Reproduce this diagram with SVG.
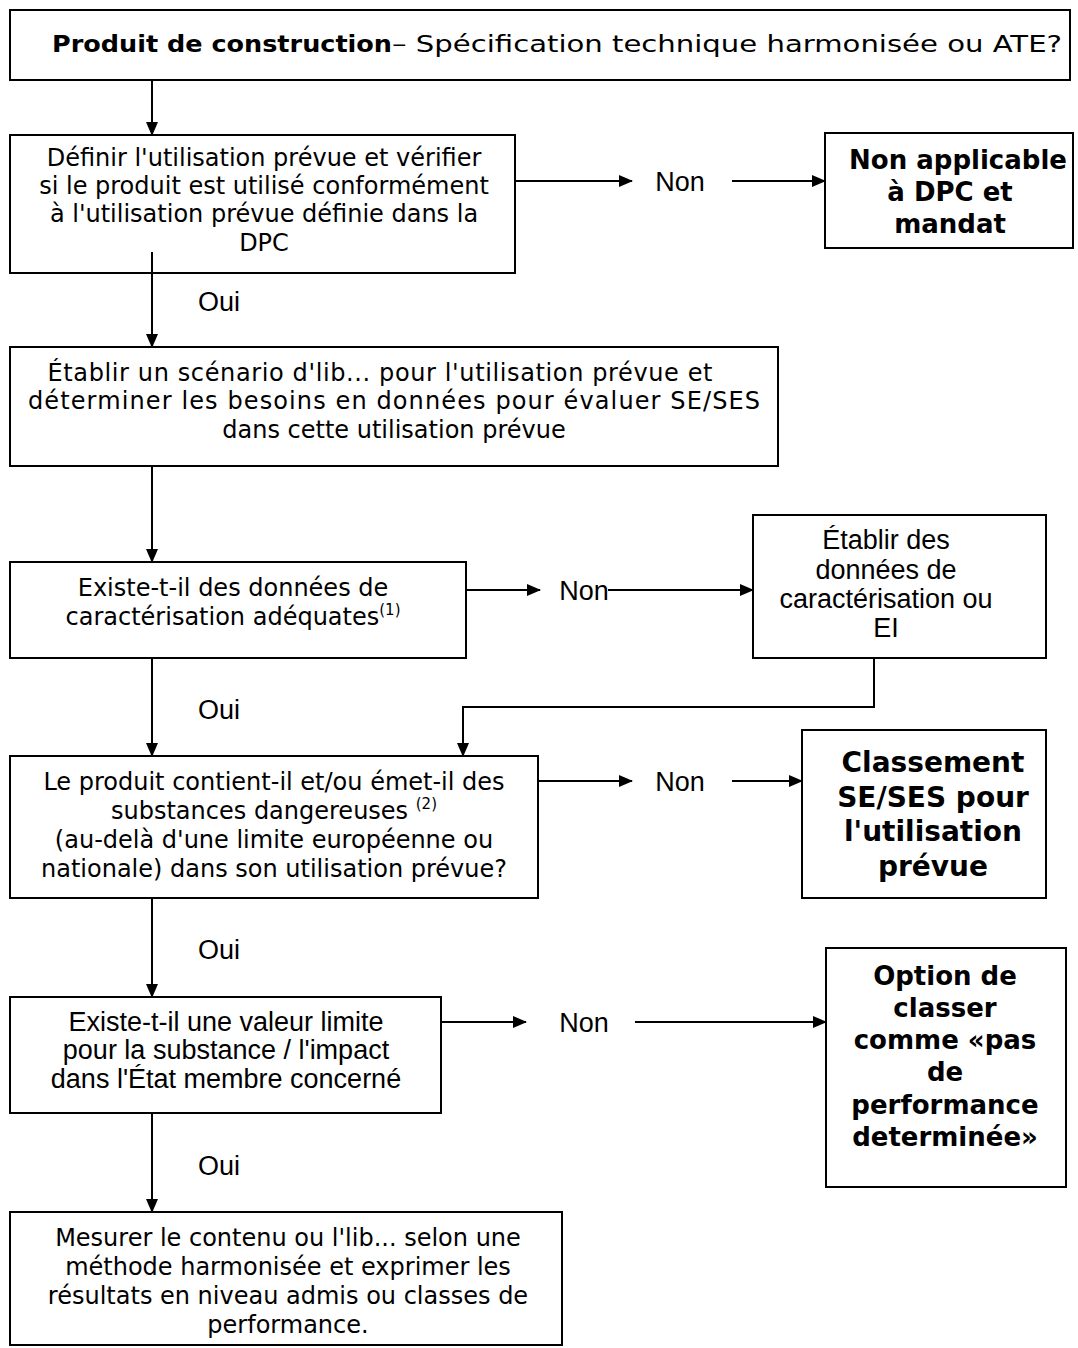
<svg xmlns="http://www.w3.org/2000/svg" width="1078" height="1348" viewBox="0 0 1078 1348">
<style>
.box{fill:#fff;stroke:#000;stroke-width:2}
.t{font-family:"DejaVu Sans",Verdana,sans-serif;font-size:24px;fill:#000;text-anchor:middle}
.a{font-family:"Liberation Sans",Arial,sans-serif;font-size:27px;fill:#000;text-anchor:middle}
.b{font-family:"DejaVu Sans",Verdana,sans-serif;font-weight:bold;fill:#000;text-anchor:middle}
.c{stroke:#000;stroke-width:2;fill:none}
.sup{font-size:15px}
</style>
<defs>
<marker id="ah" markerWidth="14" markerHeight="12" refX="13" refY="6" orient="auto" markerUnits="userSpaceOnUse">
<path d="M0,0 L14,6 L0,12 Z" fill="#000"/>
</marker>
</defs>
<rect width="1078" height="1348" fill="#fff"/>
<g id="n1">
<rect class="box" x="10" y="10" width="1060" height="70"/>
<text x="52" y="52" font-family="DejaVu Sans,Verdana,sans-serif" font-size="23" font-weight="bold" textLength="340" lengthAdjust="spacingAndGlyphs">Produit de construction</text>
<text x="392" y="52" font-family="DejaVu Sans,Verdana,sans-serif" font-size="23" textLength="670" lengthAdjust="spacingAndGlyphs">– Spécification technique harmonisée ou ATE?</text>
</g>
<g id="n2">
<rect class="box" x="10" y="135" width="505" height="138"/>
<text class="t" x="264" y="166">Définir l'utilisation prévue et vérifier</text>
<text class="t" x="264" y="194">si le produit est utilisé conformément</text>
<text class="t" x="264" y="222">à l'utilisation prévue définie dans la</text>
<text class="t" x="264" y="251">DPC</text>
</g>
<g id="n3">
<rect class="box" x="825" y="133" width="248" height="115"/>
<text class="b" font-size="26" x="958" y="169">Non applicable</text>
<text class="b" font-size="26" x="950" y="201">à DPC et</text>
<text class="b" font-size="26" x="950" y="233">mandat</text>
</g>
<g id="n4">
<rect class="box" x="10" y="347" width="768" height="119"/>
<text class="t" x="380" y="381" textLength="665" lengthAdjust="spacing">Établir un scénario d'lib... pour l'utilisation prévue et</text>
<text class="t" x="394" y="409" textLength="732" lengthAdjust="spacing">déterminer les besoins en données pour évaluer SE/SES</text>
<text class="t" font-size="22" x="394" y="438">dans cette utilisation prévue</text>
</g>
<g id="n5">
<rect class="box" x="10" y="562" width="456" height="96"/>
<text class="t" x="233" y="596">Existe-t-il des données de</text>
<text class="t" x="233" y="625">caractérisation adéquates<tspan class="sup" dy="-10">(1)</tspan></text>
</g>
<g id="n6">
<rect class="box" x="753" y="515" width="293" height="143"/>
<text class="a" x="886" y="549">Établir des</text>
<text class="a" x="886" y="579">données de</text>
<text class="a" x="886" y="608">caractérisation ou</text>
<text class="a" x="886" y="637">EI</text>
</g>
<g id="n7">
<rect class="box" x="10" y="756" width="528" height="142"/>
<text class="t" x="274" y="790">Le produit contient-il et/ou émet-il des</text>
<text class="t" x="274" y="819">substances dangereuses <tspan class="sup" dy="-10">(2)</tspan></text>
<text class="t" x="274" y="848">(au-delà d'une limite européenne ou</text>
<text class="t" x="274" y="877">nationale) dans son utilisation prévue?</text>
</g>
<g id="n8">
<rect class="box" x="802" y="730" width="244" height="168"/>
<text class="b" font-size="28" x="933" y="772">Classement</text>
<text class="b" font-size="28" x="933" y="807">SE/SES pour</text>
<text class="b" font-size="28" x="933" y="841">l'utilisation</text>
<text class="b" font-size="28" x="933" y="876">prévue</text>
</g>
<g id="n9">
<rect class="box" x="10" y="997" width="431" height="116"/>
<text class="a" x="226" y="1031">Existe-t-il une valeur limite</text>
<text class="a" x="226" y="1059">pour la substance / l'impact</text>
<text class="a" x="226" y="1088">dans l'État membre concerné</text>
</g>
<g id="n10">
<rect class="box" x="826" y="948" width="240" height="239"/>
<text class="b" font-size="26" x="945" y="985">Option de</text>
<text class="b" font-size="26" x="945" y="1017">classer</text>
<text class="b" font-size="26" x="945" y="1049">comme «pas</text>
<text class="b" font-size="26" x="945" y="1081">de</text>
<text class="b" font-size="26" x="945" y="1114">performance</text>
<text class="b" font-size="26" x="945" y="1146">determinée»</text>
</g>
<g id="n11">
<rect class="box" x="10" y="1212" width="552" height="133"/>
<text class="t" x="288" y="1246">Mesurer le contenu ou l'lib... selon une</text>
<text class="t" x="288" y="1275">méthode harmonisée et exprimer les</text>
<text class="t" x="288" y="1304">résultats en niveau admis ou classes de</text>
<text class="t" x="288" y="1333">performance.</text>
</g>
<g id="connectors">
<line class="c" x1="152" y1="80" x2="152" y2="135" marker-end="url(#ah)"/>
<line class="c" x1="515" y1="181" x2="632" y2="181" marker-end="url(#ah)"/>
<line class="c" x1="732" y1="181" x2="825" y2="181" marker-end="url(#ah)"/>
<line class="c" x1="152" y1="252" x2="152" y2="347" marker-end="url(#ah)"/>
<line class="c" x1="152" y1="466" x2="152" y2="562" marker-end="url(#ah)"/>
<line class="c" x1="466" y1="590" x2="540" y2="590" marker-end="url(#ah)"/>
<line class="c" x1="608" y1="590" x2="753" y2="590" marker-end="url(#ah)"/>
<polyline class="c" points="874,658 874,707 463,707 463,756" marker-end="url(#ah)"/>
<line class="c" x1="152" y1="658" x2="152" y2="756" marker-end="url(#ah)"/>
<line class="c" x1="538" y1="781" x2="632" y2="781" marker-end="url(#ah)"/>
<line class="c" x1="732" y1="781" x2="802" y2="781" marker-end="url(#ah)"/>
<line class="c" x1="152" y1="898" x2="152" y2="997" marker-end="url(#ah)"/>
<line class="c" x1="441" y1="1022" x2="526" y2="1022" marker-end="url(#ah)"/>
<line class="c" x1="635" y1="1022" x2="826" y2="1022" marker-end="url(#ah)"/>
<line class="c" x1="152" y1="1113" x2="152" y2="1212" marker-end="url(#ah)"/>
<text class="a" x="680" y="191">Non</text>
<text class="a" x="219" y="311">Oui</text>
<text class="a" x="584" y="600">Non</text>
<text class="a" x="219" y="719">Oui</text>
<text class="a" x="680" y="791">Non</text>
<text class="a" x="219" y="959">Oui</text>
<text class="a" x="584" y="1032">Non</text>
<text class="a" x="219" y="1175">Oui</text>
</g>
</svg>
